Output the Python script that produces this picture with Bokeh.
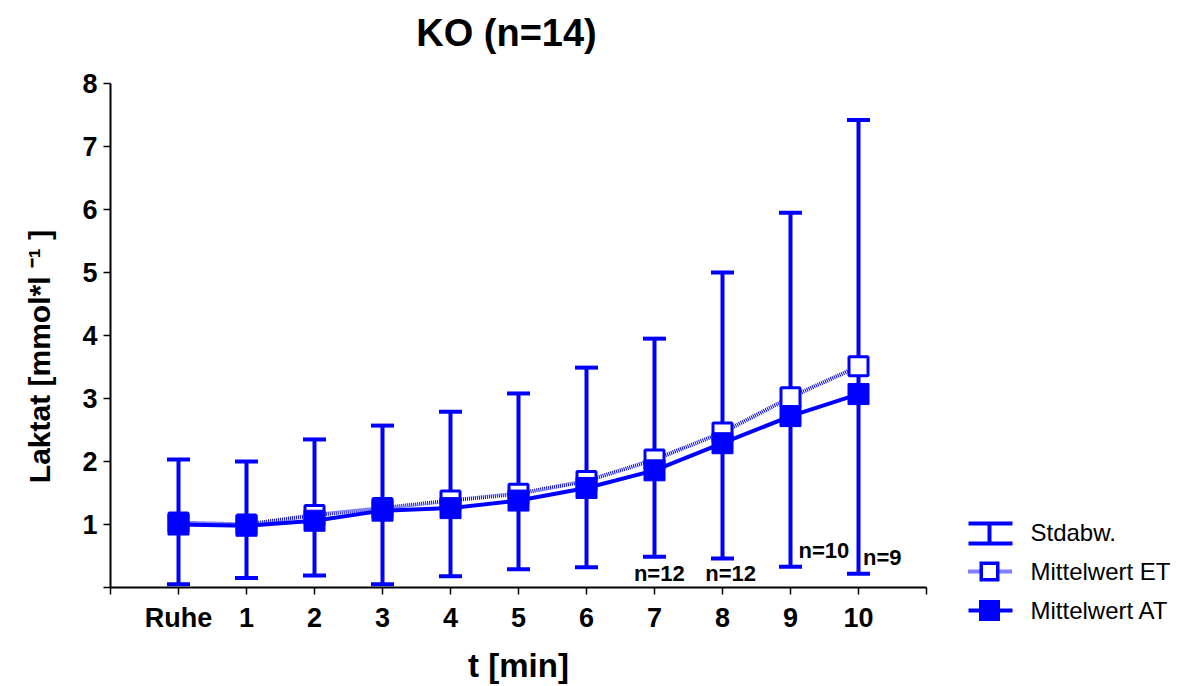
import math
from bokeh.plotting import figure
from bokeh.models import Range1d, FixedTicker, Whisker, TeeHead, ColumnDataSource
from bokeh.core.properties import value
from bokeh.embed import file_html
from bokeh.resources import INLINE

# ---- data ----
categories = ["Ruhe", "1", "2", "3", "4", "5", "6", "7", "8", "9", "10"]
mean_at = [1.00, 0.98, 1.06, 1.22, 1.26, 1.38, 1.58, 1.86, 2.29, 2.72, 3.07]
mean_et = [1.03, 1.00, 1.15, 1.26, 1.38, 1.49, 1.69, 2.03, 2.46, 3.02, 3.51]
sd_upper = [2.03, 2.00, 2.35, 2.57, 2.79, 3.08, 3.49, 3.95, 5.00, 5.95, 7.42]
sd_lower = [0.05, 0.15, 0.19, 0.05, 0.18, 0.29, 0.32, 0.49, 0.46, 0.33, 0.22]
y_ticks = [0, 1, 2, 3, 4, 5, 6, 7, 8]

n_label_text = ["n=12", "n=12", "n=10", "n=9"]
n_label_x = [7.07, 8.12, 9.49, 10.35]
n_label_y = [0.22, 0.22, 0.59, 0.48]

legend_labels = ["Stdabw.", "Mittelwert ET", "Mittelwert AT"]
title_text = "KO (n=14)"
x_label = "t [min]"
y_label = "Laktat [mmol*l \u207b\u00b9 ]"

FONT = "Liberation Sans"
BLUE = "#0000FF"

# frame geometry (pixels)
FL, FR, FT, FB = 110, 926, 83, 587
X0, X1, Y0, Y1 = -1, 11, 0, 8


def fx(px):
    return X0 + (px - FL) * (X1 - X0) / (FR - FL)


def fy(py):
    return Y0 + (FB - py) * (Y1 - Y0) / (FB - FT)


xs = list(range(len(categories)))
src = ColumnDataSource(dict(x=xs, at=mean_at, et=mean_et, upper=sd_upper, lower=sd_lower))

p = figure(width=1181, height=686, x_range=Range1d(X0, X1), y_range=Range1d(Y0, Y1),
           output_backend="svg", toolbar_location=None,
           min_border_left=FL, min_border_right=1181 - FR, min_border_top=FT,
           min_border_bottom=686 - FB)
p.outline_line_color = None
p.grid.visible = False
p.background_fill_color = "white"
p.border_fill_color = "white"

# axes
p.xaxis.ticker = FixedTicker(ticks=list(range(-1, len(categories) + 1)))
overrides = {-1: "", len(categories): ""}
for i, c in enumerate(categories):
    overrides[i] = c
p.xaxis.major_label_overrides = overrides
p.yaxis.ticker = FixedTicker(ticks=y_ticks)
p.yaxis.major_label_overrides = {0: ""}

for ax in (p.xaxis[0], p.yaxis[0]):
    ax.axis_line_color = "black"
    ax.axis_line_width = 2
    ax.major_tick_line_color = "black"
    ax.major_tick_line_width = 1.5
    ax.major_tick_out = 7
    ax.major_tick_in = 0
    ax.minor_tick_line_color = None
    ax.major_label_text_font = FONT
    ax.major_label_text_font_style = "bold"
    ax.major_label_text_font_size = "27px"
    ax.major_label_text_color = "black"
    ax.axis_label_text_font = FONT
    ax.axis_label_text_font_style = "bold"
    ax.axis_label_text_color = "black"

p.xaxis.axis_label = x_label
p.xaxis.axis_label_text_font_size = "33px"
p.xaxis.major_label_standoff = 8
p.xaxis.axis_label_standoff = 11
p.yaxis.major_label_standoff = 6

# title and y-axis label (overlay text, drawn outside the frame)
p.text(x=[fx(506)], y=[fy(32)], text=[title_text], text_font=value(FONT), text_font_style="bold",
       text_font_size="38px", text_align="center", text_baseline="middle",
       text_color="black", level="overlay")
p.text(x=[fx(39)], y=[fy(356)], text=[y_label], angle=math.pi / 2, text_font=value(FONT),
       text_font_style="bold", text_font_size="30px", text_align="center",
       text_baseline="middle", text_color="black", level="overlay")

# error bars
wh = Whisker(base="x", upper="upper", lower="lower", source=src,
             line_color=BLUE, line_width=4, level="underlay",
             upper_head=TeeHead(size=23, line_color=BLUE, line_width=4),
             lower_head=TeeHead(size=23, line_color=BLUE, line_width=4))
p.add_layout(wh)

# ET (dotted, open squares)
p.line("x", "et", source=src, line_color=BLUE, line_width=4, line_dash="1 1")
p.scatter("x", "et", source=src, marker="square", size=19, fill_color="white",
          line_color=BLUE, line_width=3)
# AT (solid, filled squares)
p.line("x", "at", source=src, line_color=BLUE, line_width=4)
p.scatter("x", "at", source=src, marker="square", size=21, fill_color=BLUE,
          line_color=BLUE, line_width=1)

# n labels
p.text(x=n_label_x, y=n_label_y, text=n_label_text, text_font=value(FONT),
       text_font_style="bold", text_font_size="22px", text_align="center",
       text_baseline="middle", text_color="black")


# ---- legend (overlay-level glyphs, outside the frame) ----
def hseg(xa, xb, yy, width, color=BLUE, dash="solid"):
    p.segment(x0=[fx(xa)], y0=[fy(yy)], x1=[fx(xb)], y1=[fy(yy)], line_color=color,
              line_width=width, line_dash=dash, line_cap="butt", level="overlay")


sym_l, sym_r, sym_c = 968, 1012, 989
row_y = [532, 571, 610]
cap_top, cap_bot = 523, 543

# Stdabw. "I" symbol
hseg(sym_l, sym_r, cap_top, 4)
hseg(sym_l, sym_r, cap_bot, 4)
p.segment(x0=[fx(sym_c)], y0=[fy(cap_top)], x1=[fx(sym_c)], y1=[fy(cap_bot)],
          line_color=BLUE, line_width=4, level="overlay")
# Mittelwert ET symbol: dotted line + open square
hseg(sym_l, sym_r, row_y[1], 4, dash="1 1")
hseg(sym_c - 10, sym_c + 10, row_y[1], 20)
hseg(sym_c - 6.5, sym_c + 6.5, row_y[1], 13, color="white")
# Mittelwert AT symbol: solid line + filled square
hseg(sym_l, sym_r, row_y[2], 4)
hseg(sym_c - 10.5, sym_c + 10.5, row_y[2], 21)

p.text(x=[fx(1030)] * 3, y=[fy(v) for v in row_y], text=legend_labels, text_font=value(FONT),
       text_font_size="24px", text_align="left", text_baseline="middle", text_color="black",
       level="overlay")

open("out.html", "w").write(file_html(p, INLINE))
